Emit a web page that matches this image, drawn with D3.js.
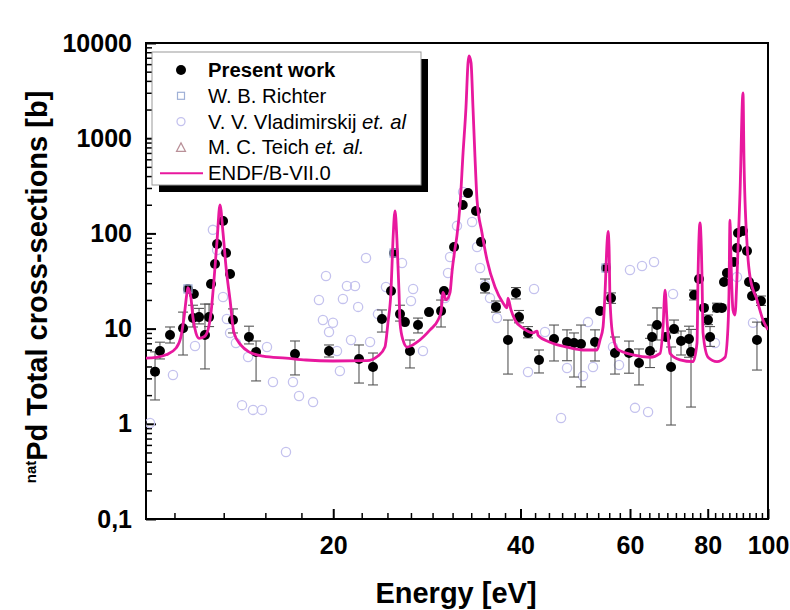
<!DOCTYPE html>
<html><head><meta charset="utf-8">
<script src="https://cdn.jsdelivr.net/npm/d3@7"></script>
<style>
body{margin:0;background:#fff;}
text{font-family:"Liberation Sans",Arial,Helvetica,sans-serif;}
</style>
</head><body>
<svg id="chart" width="790" height="610"></svg>
<script>
// ---------- data ----------
const xTicks = [20, 40, 60, 80, 100];
const xTickLabels = ["20", "40", "60", "80", "100"];
const yTicks = [0.1, 1, 10, 100, 1000, 10000];
const yTickLabels = ["0,1", "1", "10", "100", "1000", "10000"];

// Present work (energy eV, cross-section b, error low, error high)
const pwE  = [10.34,10.53,10.93,11.47,11.68,11.94,11.90,12.17,12.44,12.63,12.72,12.91,13.01,13.30,13.45,13.65,13.80,14.64,15.03,17.36,19.69,22.00,23.17,23.95,24.77,25.05,25.61,26.08,26.57,27.37,28.51,29.81,30.14,31.28,32.30,32.94,33.93,34.56,35.08,36.53,38.19,39.34,39.78,41.13,42.84,45.29,47.52,48.77,50.05,52.71,53.70,54.90,55.93,56.75,59.77,62.03,64.61,65.10,66.31,68.55,69.84,70.62,72.47,74.64,75.20,76.04,77.47,78.91,80.09,80.69,82.79,84.33,84.97,85.91,88.16,89.16,89.50,91.16,92.52,93.22,94.26,95.30,97.44,96.00,99.3];
const pwS  = [3.53,5.82,8.57,10.1,26.1,23.1,12.9,13.2,8.57,13.2,29.4,47.7,77.4,135,62.2,37.5,12.3,8.16,5.68,5.41,5.82,4.80,3.95,12.6,24.8,62.2,14.2,11.7,5.82,10.9,14.9,15.3,24.8,71.9,199,265,172,81.2,27.4,16.9,7.59,23.7,13.2,9.0,4.68,7.78,7.23,7.06,6.89,7.23,15.3,43.3,20.9,5.54,5.54,4.35,5.82,8.16,10.9,8.16,3.95,9.9,7.41,7.78,5.68,22.5,33.2,16.5,12.3,8.16,16.5,16.5,30.9,38.4,50.1,70.3,101,106,65.3,30.9,22.0,27.4,19.5,7.59,11.5];
const pwLo = [1.78,4.8,7.06,5.28,null,null,10.4,11.2,3.77,10.5,null,null,null,null,null,null,9.0,6.9,2.82,3.26,5.03,2.68,2.56,9.2,null,null,12.0,null,3.86,9.0,null,10.4,null,null,null,null,null,null,23.7,14.9,3.33,20.5,11.5,8.0,3.42,4.57,4.6,3.10,2.44,4.57,null,null,18.4,3.33,3.4,2.56,3.9,5.8,7.59,null,0.971,9.0,5.28,5.0,1.50,20.0,null,null,11.0,6.5,15.0,null,null,null,null,null,null,null,null,null,null,null,17.5,3.67,null];
const pwHi = [5.7,7.2,10.4,14.9,null,null,17.6,16.3,18.1,18.1,null,null,null,null,null,null,16.1,10.6,7.41,7.41,6.73,6.73,5.54,15.7,null,null,17.6,null,7.59,12.9,null,19.95,null,null,null,null,null,null,33.2,19.5,12.3,27.0,15.5,10.5,5.96,10.9,9.7,9.0,10.9,9.7,null,null,23.7,8.16,7.4,6.11,7.9,10.9,16.5,null,6.41,12.3,9.43,10.6,9.8,25.4,null,null,13.9,10.5,18.5,null,null,null,null,null,null,null,null,null,null,null,22.0,11.7,null];

// V. V. Vladimirskij et al.
const vlE = [10.15,11.05,11.99,12.81,13.01,13.30,13.49,13.65,13.95,14.59,15.65,16.00,14.27,14.86,15.36,16.79,17.23,17.62,18.56,20.50,19.47,21.04,21.68,18.97,20.73,21.93,19.25,19.98,19.69,21.36,20.28,22.58,22.92,23.60,24.31,25.80,26.88,26.67,27.88,30.25,30.82,31.62,32.34,33.44,34.06,34.44,30.59,35.08,35.73,36.67,42.06,41.13,43.80,46.48,47.52,52.32,51.36,50.42,56.34,59.99,62.73,65.58,61.12,64.15,70.36,57.61,82.18,89.16,94.6];
const vlS = [1.02,3.26,6.56,109,67,21.5,12.6,9.0,7.06,5.03,6.41,2.75,1.57,1.40,1.40,0.506,2.75,1.96,1.69,3.59,35.7,28.0,28.0,19.95,20.5,16.9,12.3,11.5,9.2,7.59,5.82,55.2,7.23,14.2,27.4,48.9,26.1,19.5,5.82,20.9,56.5,120,272,132,71.9,43.3,38.4,28.7,20.9,12.9,26.1,3.50,9.2,1.15,3.86,3.95,11.7,3.18,6.41,41.3,45.5,50.1,1.47,1.33,23.1,4.15,7.06,34.8,11.5];

// W. B. Richter
const rcE = [11.68, 25.05, 54.90];
const rcS = [26.1, 62.2, 43.3];

// ENDF/B-VII.0 evaluated curve
const endfE = [10.00,10.38,10.77,11.18,11.38,11.51,11.64,11.68,11.81,11.90,12.03,12.17,12.40,12.58,12.72,12.86,13.01,13.15,13.30,13.45,13.65,13.85,14.21,14.64,15.42,16.79,18.08,19.98,22.66,23.60,24.22,24.49,24.77,24.95,25.14,25.32,25.51,25.61,25.89,26.28,27.27,28.62,29.48,29.81,30.03,30.37,30.82,31.05,31.40,31.62,31.98,32.34,32.69,32.94,33.06,33.31,33.55,33.80,34.06,34.69,35.34,36.40,37.50,38.05,38.19,38.62,39.20,40.37,41.92,42.53,42.69,44.62,47.52,50.42,53.11,53.70,54.30,54.70,55.11,55.31,55.52,55.72,56.34,57.40,60.67,64.61,67.06,67.80,68.31,68.81,69.58,72.20,75.76,76.89,77.18,77.75,78.33,78.62,80.09,82.79,85.30,86.23,86.55,86.87,87.19,87.84,88.49,89.16,90.16,91.16,91.50,92.52,93.56,96.00,98.17,100];
const endfS = [4.9,5.0,5.3,6.25,8.2,13,24,27,21,13,9.0,7.9,8.2,9.7,14.6,32,85,199,101,44,20,9.0,6.7,5.7,5.15,4.9,4.68,4.57,4.6,5.15,6.4,11.5,25,85,172,85,25,11.5,7.6,6.4,7.2,9.7,12.3,15,24,20,24,40,70,95,200,700,2100,6200,7300,6200,2100,635,224,101,52.6,27.4,18.6,16.5,20.9,15.7,12.3,10.1,9.0,9.43,8.5,7.2,6.4,5.96,5.96,7.6,10.4,23.7,79,105,72,20,8.2,6.0,5.3,5.0,5.5,10.4,25.4,12.3,5.5,4.7,4.5,7.1,35,129,35,9.0,5.0,4.5,5.0,10.4,23.7,138,53,15.7,13.9,35,266,2985,590,79,35,20,12.3,9.7];

const legendItems = [
  {key:"pw", parts:[["Present work","bold"]]},
  {key:"rc", parts:[["W. B. Richter","normal"]]},
  {key:"vl", parts:[["V. V. Vladimirskij ","normal"],["et. al","italic"]]},
  {key:"tc", parts:[["M. C. Teich ","normal"],["et. al.","italic"]]},
  {key:"endf", parts:[["ENDF/B-VII.0","normal"]]}
];

// ---------- chart ----------
const svg = d3.select("#chart");
const L = 146, R = 768, T = 43, B = 519;
const x = d3.scaleLog().domain([10, 100]).range([L, R]);
const y = d3.scaleLog().domain([0.1, 10000]).range([B, T]);

const endfColor = "#e8189e";
const vlColor = "#c4c2ee";
const rcColor = "#9fb0d6";
const tcColor = "#b99098";

svg.append("rect").attr("width",790).attr("height",610).attr("fill","#fff");

svg.append("defs").append("clipPath").attr("id","clip")
  .append("rect").attr("x",L).attr("y",T).attr("width",R-L).attr("height",B-T);

// Axes - minor ticks
const xMinor = d3.range(5, 46).map(k => k*20/9).filter(v => !xTicks.some(t => Math.abs(t-v)<1e-6));
svg.append("g").attr("transform",`translate(0,${B})`)
  .call(d3.axisBottom(x).tickValues(xMinor).tickSizeInner(-6).tickSizeOuter(0).tickFormat(""))
  .call(g=>g.select(".domain").remove())
  .call(g=>g.selectAll("line").attr("stroke","#000").attr("stroke-width",1.5));

const yMinor = [];
[0.1,1,10,100,1000].forEach(d => { for (let k=2;k<=9;k++) yMinor.push(d*k); });
svg.append("g").attr("transform",`translate(${L},0)`)
  .call(d3.axisLeft(y).tickValues(yMinor).tickSizeInner(-6).tickSizeOuter(0).tickFormat(""))
  .call(g=>g.select(".domain").remove())
  .call(g=>g.selectAll("line").attr("stroke","#000").attr("stroke-width",1.5));

// Major axes
const xAxis = svg.append("g").attr("transform",`translate(0,${B})`)
  .call(d3.axisBottom(x).tickValues(xTicks).tickSizeInner(-10).tickSizeOuter(0).tickPadding(17)
    .tickFormat((d,i)=>xTickLabels[i]));
xAxis.select(".domain").remove();
xAxis.selectAll("line").attr("stroke","#000").attr("stroke-width",2);
xAxis.selectAll("text").attr("fill","#000").attr("font-size",25).attr("font-weight","bold")
  .attr("font-family","'Liberation Sans',Arial,sans-serif");

const yAxis = svg.append("g").attr("transform",`translate(${L},0)`)
  .call(d3.axisLeft(y).tickValues(yTicks).tickSizeInner(-10).tickSizeOuter(0).tickPadding(14)
    .tickFormat((d,i)=>yTickLabels[i]));
yAxis.select(".domain").remove();
yAxis.selectAll("line").attr("stroke","#000").attr("stroke-width",2);
yAxis.selectAll("text").attr("fill","#000").attr("font-size",25).attr("font-weight","bold")
  .attr("font-family","'Liberation Sans',Arial,sans-serif");

// frame
svg.append("rect").attr("x",L).attr("y",T).attr("width",R-L).attr("height",B-T)
  .attr("fill","none").attr("stroke","#000").attr("stroke-width",2);

const plot = svg.append("g").attr("clip-path","url(#clip)");

// Vladimirskij circles
plot.selectAll("circle.vl").data(vlE).join("circle").attr("class","vl")
  .attr("cx",(d)=>x(d)).attr("cy",(d,i)=>y(vlS[i])).attr("r",4.6)
  .attr("fill","none").attr("stroke",vlColor).attr("stroke-width",1.3);

// Error bars
const pwIdx = d3.range(pwE.length);
const eb = plot.append("g").attr("stroke","#555").attr("stroke-width",1.1);
pwIdx.filter(i=>pwLo[i]!==null).forEach(i=>{
  const cx = x(pwE[i]), y0 = y(pwLo[i]), y1 = y(pwHi[i]);
  eb.append("line").attr("x1",cx).attr("x2",cx).attr("y1",y0).attr("y2",y1);
  eb.append("line").attr("x1",cx-5).attr("x2",cx+5).attr("y1",y0).attr("y2",y0);
  eb.append("line").attr("x1",cx-5).attr("x2",cx+5).attr("y1",y1).attr("y2",y1);
});

// Present work points
plot.selectAll("circle.pw").data(pwIdx).join("circle").attr("class","pw")
  .attr("cx",i=>x(pwE[i])).attr("cy",i=>y(pwS[i])).attr("r",5).attr("fill","#000");

// Richter squares
plot.selectAll("rect.rc").data(rcE).join("rect").attr("class","rc")
  .attr("x",d=>x(d)-4).attr("y",(d,i)=>y(rcS[i])-4).attr("width",8).attr("height",8)
  .attr("fill","none").attr("stroke",rcColor).attr("stroke-width",1.3);

// ENDF curve
const line = d3.line().x((d)=>x(d[0])).y(d=>y(d[1])).curve(d3.curveMonotoneX);
plot.append("path").datum(endfE.map((e,i)=>[e,endfS[i]]))
  .attr("d",line).attr("fill","none").attr("stroke",endfColor).attr("stroke-width",2.8)
  .attr("stroke-linejoin","round");

// Legend
const lg = svg.append("g");
const bx = 152, by = 52, bw = 269, bh = 133;
lg.append("rect").attr("x",bx+7).attr("y",by+7).attr("width",bw).attr("height",bh).attr("fill","#000");
lg.append("rect").attr("x",bx).attr("y",by).attr("width",bw).attr("height",bh)
  .attr("fill","#fff").attr("stroke","#999").attr("stroke-width",1);
legendItems.forEach((it,i)=>{
  const base = 77 + i*25.8;
  const cy = base - 7, sx = 181;
  if (it.key==="pw") lg.append("circle").attr("cx",sx).attr("cy",cy).attr("r",5).attr("fill","#000");
  if (it.key==="rc") lg.append("rect").attr("x",sx-3.5).attr("y",cy-3.5).attr("width",7).attr("height",7)
      .attr("fill","none").attr("stroke",rcColor).attr("stroke-width",1.2);
  if (it.key==="vl") lg.append("circle").attr("cx",sx).attr("cy",cy).attr("r",4).attr("fill","none")
      .attr("stroke",vlColor).attr("stroke-width",1.3);
  if (it.key==="tc") lg.append("path").attr("d",`M${sx-4.5},${cy+4}L${sx+4.5},${cy+4}L${sx},${cy-4.5}Z`)
      .attr("fill","none").attr("stroke",tcColor).attr("stroke-width",1.2);
  if (it.key==="endf") lg.append("line").attr("x1",160).attr("x2",203).attr("y1",cy).attr("y2",cy)
      .attr("stroke",endfColor).attr("stroke-width",2);
  const t = lg.append("text").attr("x",208).attr("y",base).attr("font-size",20.3).attr("fill","#000");
  it.parts.forEach(p=>{
    const ts = t.append("tspan").text(p[0]);
    if (p[1]==="bold") ts.attr("font-weight","bold");
    if (p[1]==="italic") ts.attr("font-style","italic");
  });
});

// Axis titles
svg.append("text").attr("x",456).attr("y",603).attr("text-anchor","middle")
  .attr("font-size",29).attr("font-weight","bold").text("Energy [eV]");

const yt = svg.append("text").attr("transform","translate(47,287) rotate(-90)")
  .attr("text-anchor","middle").attr("font-size",29).attr("font-weight","bold");
yt.append("tspan").attr("font-size",15).attr("dy",-11).text("nat");
yt.append("tspan").attr("dy",11).text("Pd Total cross-sections [b]");
</script>
</body></html>
